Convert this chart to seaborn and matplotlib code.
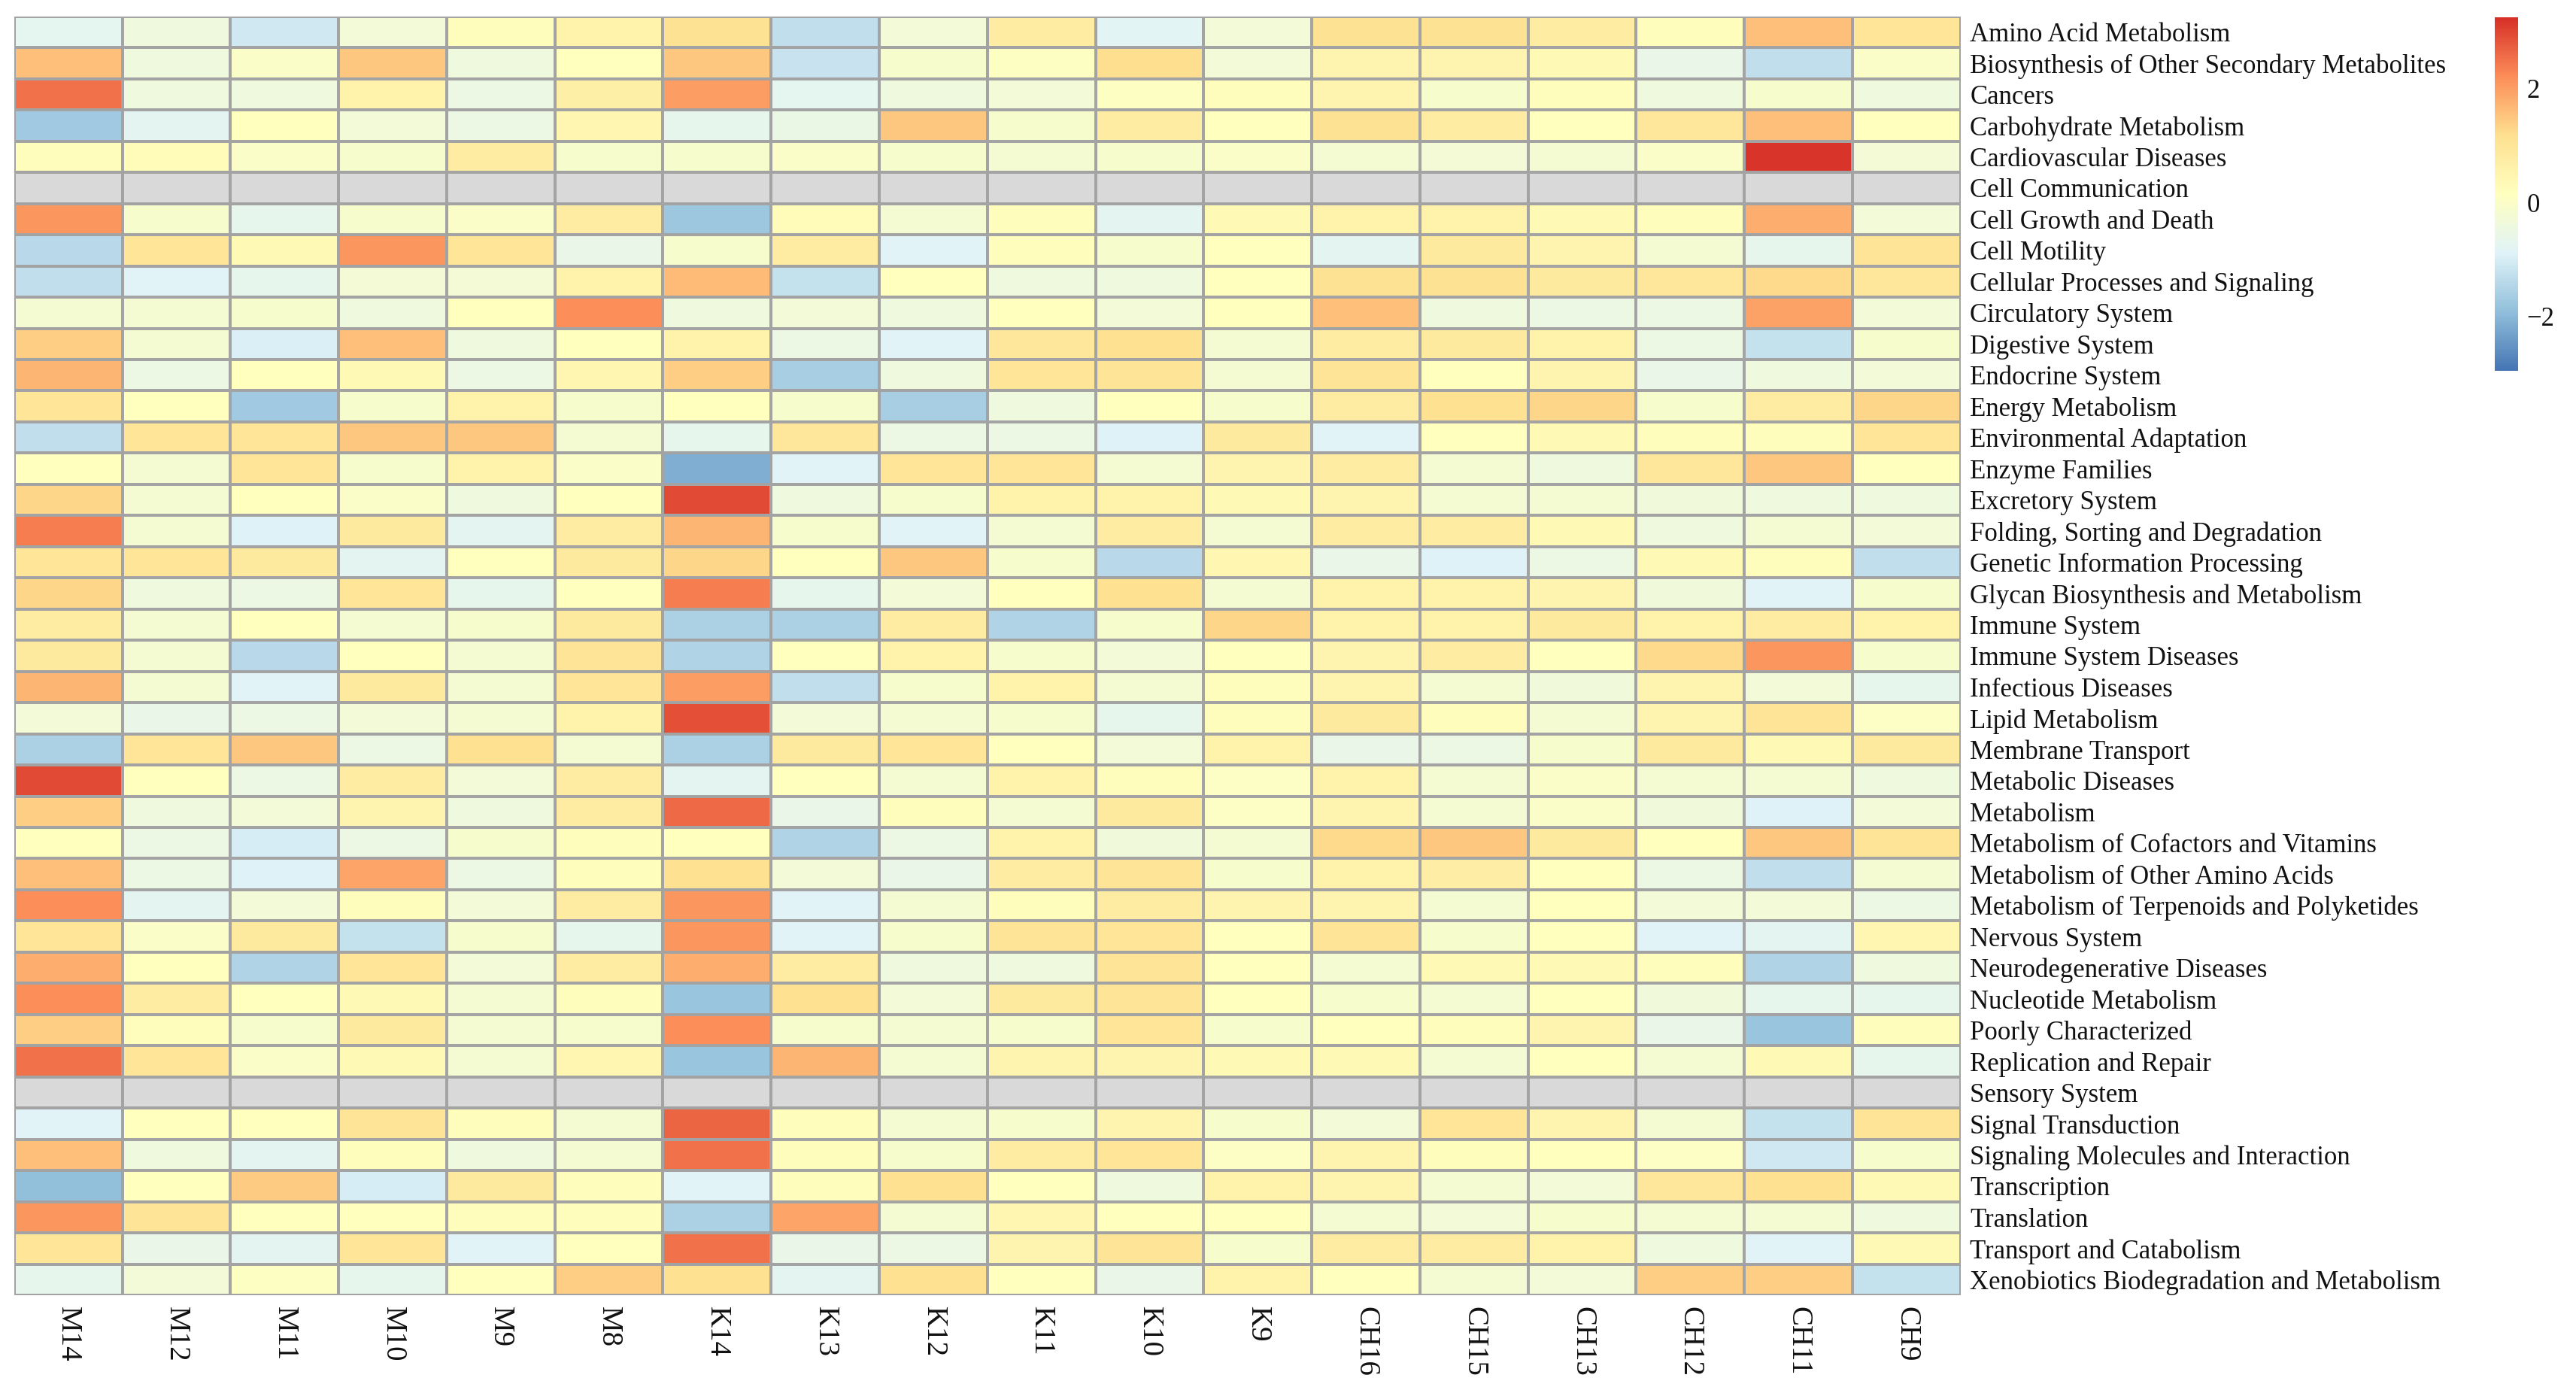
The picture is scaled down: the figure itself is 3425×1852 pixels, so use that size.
import numpy as np
import pandas as pd
import matplotlib
matplotlib.use("Agg")
import matplotlib.pyplot as plt
import seaborn as sns
from matplotlib.colors import LinearSegmentedColormap, ListedColormap

nan = np.nan

# KEGG pathways (rows)
pathways = [
    "Amino Acid Metabolism", "Biosynthesis of Other Secondary Metabolites", "Cancers",
    "Carbohydrate Metabolism", "Cardiovascular Diseases", "Cell Communication",
    "Cell Growth and Death", "Cell Motility", "Cellular Processes and Signaling",
    "Circulatory System", "Digestive System", "Endocrine System", "Energy Metabolism",
    "Environmental Adaptation", "Enzyme Families", "Excretory System",
    "Folding, Sorting and Degradation", "Genetic Information Processing",
    "Glycan Biosynthesis and Metabolism", "Immune System", "Immune System Diseases",
    "Infectious Diseases", "Lipid Metabolism", "Membrane Transport", "Metabolic Diseases",
    "Metabolism", "Metabolism of Cofactors and Vitamins", "Metabolism of Other Amino Acids",
    "Metabolism of Terpenoids and Polyketides", "Nervous System", "Neurodegenerative Diseases",
    "Nucleotide Metabolism", "Poorly Characterized", "Replication and Repair",
    "Sensory System", "Signal Transduction", "Signaling Molecules and Interaction",
    "Transcription", "Translation", "Transport and Catabolism",
    "Xenobiotics Biodegradation and Metabolism",
]

m_samples = ["M14", "M12", "M11", "M10", "M9", "M8"]
k_samples = ["K14", "K13", "K12", "K11", "K10", "K9"]
ch_samples = ["CH16", "CH15", "CH13", "CH12", "CH11", "CH9"]

# row-scaled values (z-score), one row per pathway
m_vals = [
    [-0.7, -0.4, -1.1, -0.3, 0.2, 0.6],
    [1.6, -0.4, 0.0, 1.5, -0.4, 0.15],
    [2.5, -0.4, -0.4, 0.6, -0.5, 0.7],
    [-1.7, -0.75, 0.15, -0.3, -0.5, 0.45],
    [0.2, 0.25, 0.0, -0.1, 0.8, -0.1],
    [nan, nan, nan, nan, nan, nan],
    [2.1, -0.1, -0.65, -0.1, 0.0, 0.8],
    [-1.4, 1.0, 0.35, 2.1, 1.0, -0.6],
    [-1.3, -0.85, -0.65, -0.25, -0.25, 0.6],
    [-0.2, -0.2, -0.1, -0.4, 0.15, 2.2],
    [1.4, -0.2, -0.95, 1.6, -0.4, 0.15],
    [1.7, -0.5, 0.15, 0.35, -0.5, 0.45],
    [1.0, 0.15, -1.7, -0.1, 0.6, -0.1],
    [-1.3, 1.0, 1.0, 1.5, 1.5, -0.2],
    [0.15, -0.2, 1.0, -0.1, 0.6, 0.0],
    [1.3, -0.2, 0.15, 0.0, -0.4, 0.15],
    [2.4, -0.2, -0.9, 0.85, -0.75, 0.8],
    [1.0, 1.0, 0.85, -0.75, 0.15, 0.85],
    [1.3, -0.4, -0.5, 1.0, -0.65, 0.15],
    [0.8, -0.2, 0.15, -0.2, -0.1, 0.85],
    [0.85, -0.2, -1.4, 0.15, -0.2, 1.05],
    [1.7, -0.2, -0.85, 0.85, -0.2, 1.0],
    [-0.3, -0.6, -0.5, -0.3, -0.2, 0.6],
    [-1.55, 1.0, 1.5, -0.5, 1.15, -0.2],
    [2.95, 0.15, -0.5, 0.8, -0.3, 0.8],
    [1.4, -0.4, -0.3, 0.5, -0.4, 0.8],
    [0.15, -0.5, -1.0, -0.5, -0.1, 0.2],
    [1.6, -0.5, -0.9, 1.9, -0.5, 0.2],
    [2.2, -0.75, -0.3, 0.2, -0.3, 0.8],
    [1.0, 0.0, 0.85, -1.25, -0.1, -0.65],
    [1.8, 0.15, -1.5, 1.0, -0.3, 0.8],
    [2.2, 0.8, 0.15, 0.35, -0.2, 0.2],
    [1.4, 0.2, -0.1, 0.85, -0.2, -0.1],
    [2.5, 1.0, 0.0, 0.35, -0.2, 0.45],
    [nan, nan, nan, nan, nan, nan],
    [-0.85, 0.15, 0.15, 1.05, 0.2, -0.2],
    [1.6, -0.4, -0.75, 0.2, -0.4, -0.2],
    [-1.9, 0.15, 1.45, -1.0, 0.85, 0.2],
    [2.1, 1.05, 0.15, 0.15, 0.2, 0.2],
    [1.0, -0.6, -0.75, 1.0, -0.85, 0.15],
    [-0.65, -0.3, 0.1, -0.65, 0.15, 1.4],
]

k_vals = [
    [1.1, -1.3, -0.3, 0.8, -0.8, -0.3],
    [1.5, -1.2, -0.1, 0.1, 1.2, -0.3],
    [2.0, -0.7, -0.4, -0.3, 0.1, 0.2],
    [-0.65, -0.55, 1.5, -0.1, 0.8, 0.15],
    [-0.1, 0.0, -0.1, -0.2, -0.1, 0.0],
    [nan, nan, nan, nan, nan, nan],
    [-1.75, 0.25, -0.2, 0.2, -0.75, 0.35],
    [-0.1, 0.8, -0.85, 0.2, -0.1, 0.15],
    [1.65, -1.25, 0.15, -0.4, -0.4, 0.15],
    [-0.4, -0.3, -0.4, 0.15, -0.3, 0.15],
    [0.6, -0.5, -0.85, 0.95, 1.15, -0.2],
    [1.4, -1.6, -0.4, 1.0, 1.05, -0.2],
    [0.15, -0.1, -1.6, -0.4, 0.15, -0.1],
    [-0.65, 0.95, -0.5, -0.5, -0.9, 0.85],
    [-2.15, -0.85, 1.0, 1.0, -0.2, 0.5],
    [2.95, -0.4, -0.1, 0.6, 0.6, 0.35],
    [1.7, -0.1, -0.85, -0.2, 0.8, -0.2],
    [1.3, 0.15, 1.5, -0.1, -1.4, 0.45],
    [2.4, -0.65, -0.3, 0.15, 1.15, -0.2],
    [-1.55, -1.55, 0.8, -1.5, -0.1, 1.3],
    [-1.5, 0.15, 0.6, -0.1, -0.3, 0.15],
    [2.0, -1.3, -0.1, 0.6, -0.2, 0.2],
    [2.9, -0.3, -0.2, -0.1, -0.65, 0.2],
    [-1.55, 0.85, 1.0, 0.15, -0.3, 0.6],
    [-0.75, 0.15, -0.2, 0.6, 0.2, 0.05],
    [2.6, -0.6, 0.2, -0.2, 0.85, 0.05],
    [0.15, -1.5, -0.5, 0.6, -0.35, -0.2],
    [1.15, -0.3, -0.6, 0.8, 1.05, -0.1],
    [2.1, -0.85, -0.2, 0.2, 0.8, 0.5],
    [2.1, -0.85, -0.1, 1.05, 1.0, 0.15],
    [1.8, 0.8, -0.4, -0.4, 1.05, 0.15],
    [-1.8, 1.15, -0.3, 0.85, 1.05, 0.15],
    [2.2, -0.1, -0.2, -0.1, 1.0, -0.1],
    [-1.8, 1.7, -0.2, 0.5, 0.5, 0.35],
    [nan, nan, nan, nan, nan, nan],
    [2.65, 0.2, -0.2, -0.1, 0.5, -0.1],
    [2.5, 0.2, -0.1, 0.8, 1.0, 0.05],
    [-0.85, 0.2, 1.15, 0.15, -0.4, 0.6],
    [-1.55, 1.9, -0.2, 0.45, 0.15, 0.15],
    [2.5, -0.6, -0.5, 0.5, 1.05, -0.1],
    [1.15, -0.75, 1.15, 0.15, -0.6, 0.6],
]

ch_vals = [
    [1.1, 1.1, 0.8, 0.2, 1.6, 1.0],
    [0.5, 0.5, 0.35, -0.6, -1.3, 0.0],
    [0.5, -0.1, 0.2, -0.4, -0.1, -0.4],
    [1.1, 0.8, 0.15, 0.95, 1.6, 0.15],
    [-0.2, -0.25, -0.2, 0.0, 3.2, -0.25],
    [nan, nan, nan, nan, nan, nan],
    [0.6, 0.6, 0.35, 0.2, 1.8, -0.3],
    [-0.75, 0.85, 0.5, -0.2, -0.65, 1.05],
    [1.1, 1.1, 0.85, 0.95, 1.25, 0.95],
    [1.6, -0.4, -0.5, -0.5, 1.95, -0.3],
    [0.8, 0.85, 0.6, -0.5, -1.25, -0.1],
    [1.05, 0.15, 0.5, -0.6, -0.4, -0.3],
    [0.8, 1.15, 1.3, -0.1, 0.8, 1.3],
    [-0.85, 0.15, 0.35, 0.2, 0.2, 1.0],
    [0.8, -0.2, -0.4, 0.95, 1.5, 0.15],
    [0.5, -0.2, -0.2, -0.35, -0.4, -0.4],
    [0.8, 0.8, 0.35, -0.4, -0.2, -0.3],
    [-0.6, -0.9, -0.5, 0.35, 0.2, -1.3],
    [0.6, 0.6, 0.5, -0.35, -0.85, -0.1],
    [0.6, 0.6, 0.85, 0.6, 0.8, 0.6],
    [0.5, 0.8, 0.15, 1.25, 2.1, -0.1],
    [0.5, -0.2, -0.35, 0.5, -0.3, -0.65],
    [0.85, 0.2, -0.2, 0.5, 1.05, 0.05],
    [-0.6, -0.5, -0.1, 0.85, 0.35, 0.85],
    [0.6, -0.2, 0.0, -0.2, -0.2, -0.4],
    [0.5, -0.2, 0.0, -0.35, -0.9, -0.3],
    [1.25, 1.5, 0.85, 0.15, 1.5, 1.05],
    [0.6, 0.75, 0.15, -0.5, -1.3, -0.2],
    [0.5, -0.2, 0.15, -0.3, -0.3, -0.5],
    [1.05, -0.1, 0.15, -0.85, -0.75, 0.45],
    [-0.2, 0.35, 0.35, 0.2, -1.5, -0.4],
    [-0.1, -0.2, 0.15, -0.35, -0.65, -0.65],
    [0.15, 0.2, 0.5, -0.6, -1.8, 0.2],
    [0.35, -0.2, 0.15, -0.2, 0.35, -0.65],
    [nan, nan, nan, nan, nan, nan],
    [-0.3, 1.0, 0.5, -0.2, -1.25, 1.05],
    [0.5, 0.2, 0.15, 0.05, -1.1, -0.1],
    [0.5, -0.2, -0.3, 0.95, 1.15, 0.35],
    [-0.2, -0.3, -0.1, -0.2, -0.2, -0.4],
    [0.8, 0.8, 0.6, -0.4, -0.85, 0.35],
    [0.15, -0.2, -0.3, 1.4, 1.4, -1.25],
]

samples = m_samples + k_samples + ch_samples
df = pd.DataFrame(np.hstack([m_vals, k_vals, ch_vals]), index=pathways, columns=samples)

# pheatmap-like palette
pal = ["#4575B4", "#91BFDB", "#E0F3F8", "#FFFFBF", "#FEE090", "#FC8D59", "#D73027"]
cmap = LinearSegmentedColormap.from_list("rdylbu", pal, N=256)
grid_col = "#A3A3A3"
lw = 1.5

sns.set_style("white")
plt.rcParams["font.family"] = ["Liberation Serif", "DejaVu Serif"]

fig = plt.figure(figsize=(34.25, 18.52), dpi=100)
ax = fig.add_axes([0.0055, 0.0702, 0.7556, 0.918])
cax = fig.add_axes([0.9685, 0.7338, 0.00905, 0.2538])

# grey cells for the rows with no data
na_mask = df.isna()
sns.heatmap(pd.DataFrame(0.0, index=df.index, columns=df.columns), mask=~na_mask,
            cmap=ListedColormap(["#D9D9D9"]), vmin=0, vmax=1, cbar=False,
            linewidths=lw, linecolor=grid_col, ax=ax)

sns.heatmap(df, cmap=cmap, vmin=-2.95, vmax=3.25, linewidths=lw, linecolor=grid_col,
            ax=ax, cbar_ax=cax, cbar_kws={"ticks": [-2, 0, 2]})

ax.yaxis.tick_right()
ax.set_yticks(np.arange(len(pathways)) + 0.5)
ax.set_yticklabels(pathways, rotation=0, fontsize=25, color="#111111")
ax.set_xticks(np.arange(len(samples)) + 0.5)
ax.set_xticklabels(samples, rotation=270, fontsize=28, color="#111111")
ax.tick_params(axis="y", length=0, pad=9)
ax.tick_params(axis="x", length=0, pad=11)
ax.set_xlabel("")
ax.set_ylabel("")

cax.tick_params(length=0, labelsize=25, pad=8, colors="#111111")
for sp in cax.spines.values():
    sp.set_visible(False)

fig.savefig("out.png", dpi=100)
